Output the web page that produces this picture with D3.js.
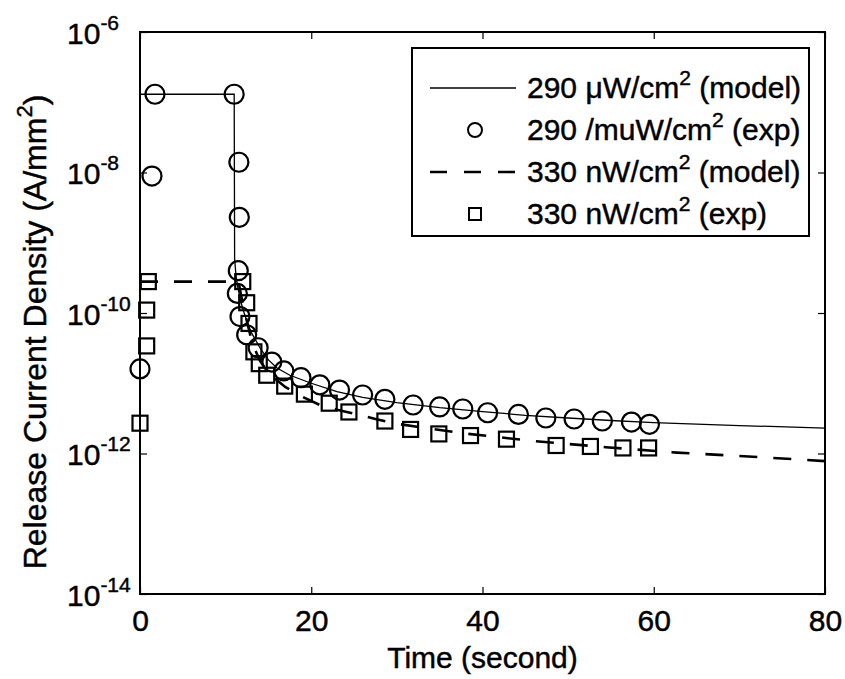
<!DOCTYPE html>
<html>
<head>
<meta charset="utf-8">
<script src="https://cdn.jsdelivr.net/npm/d3@7"></script>
<style>
  body { margin: 0; background: #fff; }
  svg { display: block; }
  text { font-family: "Liberation Sans", Arial, Helvetica, sans-serif; fill: #000; stroke: #000; stroke-width: 0.45px; }
</style>
</head>
<body>
<svg id="chart" width="845" height="679"></svg>
<script>
// 290 uW/cm2 experiment (circles)
var expT290 = [0, 1.4, 1.75, 11.0, 11.55, 11.6, 11.48, 11.37, 11.68, 12.46, 13.8, 15.4, 16.8, 18.8, 21.0, 23.3, 26.0, 28.6, 31.9, 35.0, 37.7, 40.6, 44.2, 47.4, 50.7, 54.0, 57.4, 59.5];
var expJ290 = [1.6e-11, 8.9e-9, 1.3e-7, 1.3e-7, 1.4e-8, 2.3e-9, 4e-10, 1.9e-10, 8.9e-11, 4.9e-11, 3.2e-11, 2.0e-11, 1.5e-11, 1.2e-11, 9.5e-12, 8.0e-12, 6.8e-12, 5.9e-12, 4.9e-12, 4.6e-12, 4.3e-12, 3.8e-12, 3.6e-12, 3.2e-12, 3.1e-12, 2.9e-12, 2.8e-12, 2.6e-12];

// 330 nW/cm2 experiment (squares)
var expT330 = [0, 0.78, 0.78, 0.97, 12.0, 12.46, 12.73, 13.3, 13.93, 14.8, 16.9, 19.2, 22.1, 24.4, 28.6, 31.6, 34.9, 38.6, 42.8, 48.6, 52.6, 56.4, 59.4];
var expJ330 = [2.7e-12, 3.4e-11, 1.1e-10, 2.8e-10, 2.8e-10, 1.4e-10, 7.1e-11, 2.8e-11, 1.9e-11, 1.3e-11, 9.1e-12, 7.0e-12, 5.2e-12, 3.9e-12, 2.9e-12, 2.2e-12, 1.9e-12, 1.8e-12, 1.6e-12, 1.3e-12, 1.26e-12, 1.2e-12, 1.2e-12];

// model curves
var modT290 = [0, 11.0, 11.05, 11.2, 11.4, 11.7, 12.0, 12.5, 13, 14, 15, 16, 17.5, 20, 23, 26, 30, 35, 40, 45, 50, 55, 60, 70, 80];
var modJ290 = [1.3e-7, 1.3e-7, 6e-10, 3.5e-10, 2.4e-10, 1.6e-10, 1.15e-10, 7.5e-11, 5.3e-11, 3.2e-11, 2.15e-11, 1.65e-11, 1.3e-11, 1.0e-11, 7.6e-12, 6.3e-12, 5.3e-12, 4.5e-12, 3.95e-12, 3.5e-12, 3.2e-12, 2.95e-12, 2.75e-12, 2.5e-12, 2.3e-12];
var modT330 = [0, 11.5, 11.8, 12.1, 12.5, 13, 13.5, 14, 15, 16, 17, 19, 21, 23, 25, 27.5, 30, 33.5, 37.7, 41.3, 46, 54.4, 62.7, 70, 75, 80];
var modJ330 = [2.8e-10, 2.8e-10, 1.8e-10, 1.2e-10, 7.5e-11, 4.2e-11, 2.9e-11, 2.1e-11, 1.4e-11, 1.1e-11, 8.8e-12, 6.4e-12, 4.9e-12, 4.2e-12, 3.7e-12, 3.1e-12, 2.65e-12, 2.3e-12, 1.94e-12, 1.74e-12, 1.5e-12, 1.23e-12, 1.03e-12, 0.92e-12, 0.85e-12, 0.78e-12];

var xTicks = [0, 20, 40, 60, 80];
var yTicks = [1e-6, 1e-8, 1e-10, 1e-12, 1e-14];
var legendLabels = [
  ["290 \u03bcW/cm", "2", " (model)"],
  ["290 /muW/cm", "2", " (exp)"],
  ["330 nW/cm", "2", " (model)"],
  ["330 nW/cm", "2", " (exp)"]
];

var svg = d3.select("#chart");
var plotL = 140, plotR = 825, plotT = 32, plotB = 594;

var x = d3.scaleLinear().domain([0, 80]).range([plotL, plotR]);
var y = d3.scaleLog().domain([1e-14, 1e-6]).range([plotB, plotT]);

var zip = function(a, b) { return a.map(function(v, i) { return [v, b[i]]; }); };
var line = d3.line()
  .x(function(d) { return x(d[0]); })
  .y(function(d) { return y(d[1]); });

// axes (ticks pointing inward)
svg.append("g")
  .attr("transform", "translate(0," + plotB + ")")
  .call(d3.axisBottom(x).tickValues(xTicks).tickSizeInner(-7).tickSizeOuter(0).tickPadding(16))
  .call(function(g) {
    g.select(".domain").remove();
    g.selectAll("text").attr("font-size", 30);
    g.selectAll("line").attr("stroke-width", 1.2);
  });
svg.append("g")
  .attr("transform", "translate(0," + plotT + ")")
  .call(d3.axisTop(x).tickValues(xTicks).tickSizeInner(-7).tickSizeOuter(0).tickFormat(""))
  .call(function(g) { g.select(".domain").remove(); g.selectAll("line").attr("stroke-width", 1.2); });
svg.append("g")
  .attr("transform", "translate(" + plotR + ",0)")
  .call(d3.axisRight(y).tickValues(yTicks).tickSizeInner(-7).tickSizeOuter(0).tickFormat(""))
  .call(function(g) { g.select(".domain").remove(); g.selectAll("line").attr("stroke-width", 1.2); });

var yAxis = svg.append("g")
  .attr("transform", "translate(" + plotL + ",0)")
  .call(d3.axisLeft(y).tickValues(yTicks).tickSizeInner(-7).tickSizeOuter(0).tickFormat(""));
yAxis.select(".domain").remove();
yAxis.selectAll("line").attr("stroke-width", 1.2);
yAxis.selectAll(".tick text").each(function(d) {
  var t = d3.select(this)
    .attr("x", -73).attr("dy", null).attr("y", 11)
    .attr("text-anchor", "start").attr("font-size", 30);
  t.append("tspan").text("10");
  t.append("tspan").attr("font-size", 21).attr("dy", -14).text(Math.round(Math.log10(d)));
});

// model lines
svg.append("path")
  .datum(zip(modT290, modJ290))
  .attr("d", line)
  .attr("fill", "none").attr("stroke", "#000").attr("stroke-width", 1.3);
svg.append("path")
  .datum(zip(modT330, modJ330))
  .attr("d", line)
  .attr("fill", "none").attr("stroke", "#000").attr("stroke-width", 2.6)
  .attr("stroke-dasharray", "18,16");

// experimental markers
svg.append("g").selectAll("circle")
  .data(zip(expT290, expJ290))
  .enter().append("circle")
  .attr("cx", function(d) { return x(d[0]); })
  .attr("cy", function(d) { return y(d[1]); })
  .attr("r", 9.5)
  .attr("fill", "none").attr("stroke", "#000").attr("stroke-width", 2.2);
svg.append("g").selectAll("rect")
  .data(zip(expT330, expJ330))
  .enter().append("rect")
  .attr("x", function(d) { return x(d[0]) - 7.5; })
  .attr("y", function(d) { return y(d[1]) - 7.5; })
  .attr("width", 15).attr("height", 15)
  .attr("fill", "none").attr("stroke", "#000").attr("stroke-width", 2.2);

// frame
svg.append("rect")
  .attr("x", plotL).attr("y", plotT)
  .attr("width", plotR - plotL).attr("height", plotB - plotT)
  .attr("fill", "none").attr("stroke", "#000").attr("stroke-width", 2);

// axis labels
svg.append("text")
  .attr("x", (plotL + plotR) / 2).attr("y", 668)
  .attr("text-anchor", "middle").attr("font-size", 30)
  .text("Time (second)");
var yl = svg.append("text")
  .attr("transform", "translate(46,332) rotate(-90)")
  .attr("text-anchor", "middle").attr("font-size", 32);
yl.append("tspan").text("Release Current Density (A/mm");
yl.append("tspan").attr("font-size", 22).attr("dy", -14).text("2");
yl.append("tspan").attr("dy", 14).text(")");

// legend
var lg = svg.append("g");
lg.append("rect")
  .attr("x", 412).attr("y", 48).attr("width", 397).attr("height", 188)
  .attr("fill", "#fff").attr("stroke", "#000").attr("stroke-width", 2);
var rowY = [88, 130, 172, 214];
lg.append("line").attr("x1", 430).attr("x2", 516).attr("y1", rowY[0]).attr("y2", rowY[0])
  .attr("stroke", "#000").attr("stroke-width", 1.3);
lg.append("circle").attr("cx", 475).attr("cy", rowY[1]).attr("r", 7)
  .attr("fill", "none").attr("stroke", "#000").attr("stroke-width", 2);
lg.append("line").attr("x1", 430).attr("x2", 516).attr("y1", rowY[2]).attr("y2", rowY[2])
  .attr("stroke", "#000").attr("stroke-width", 2.6).attr("stroke-dasharray", "17,17");
lg.append("rect").attr("x", 469).attr("y", rowY[3] - 6).attr("width", 12).attr("height", 12)
  .attr("fill", "none").attr("stroke", "#000").attr("stroke-width", 2);
legendLabels.forEach(function(l, i) {
  var t = lg.append("text").attr("x", 527).attr("y", rowY[i] + 10).attr("font-size", 30);
  t.append("tspan").text(l[0]);
  t.append("tspan").attr("font-size", 21).attr("dy", -13).text(l[1]);
  t.append("tspan").attr("dy", 13).text(l[2]);
});
</script>
</body>
</html>
